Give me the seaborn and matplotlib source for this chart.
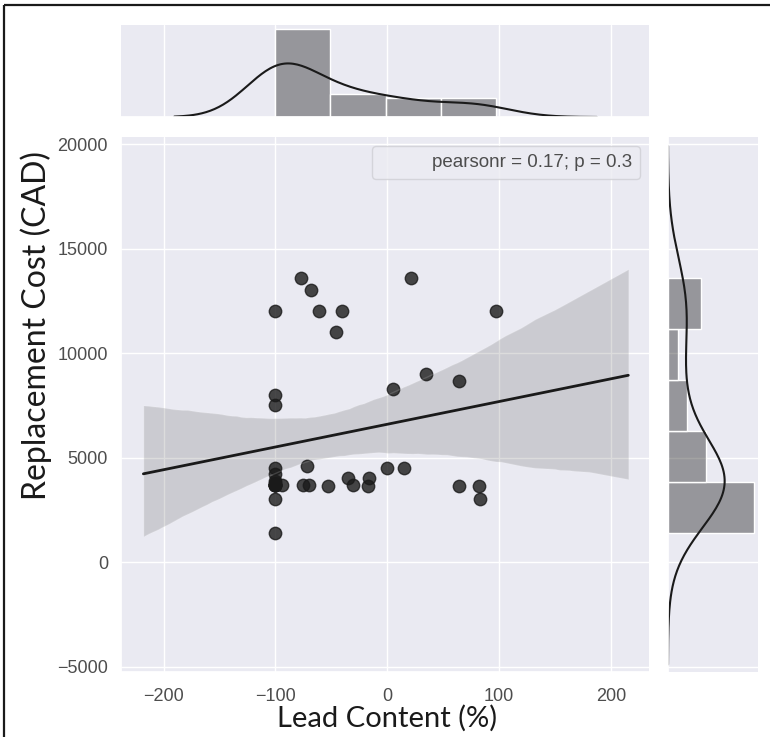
import numpy as np
import pandas as pd
import matplotlib
matplotlib.use("Agg")
import matplotlib.pyplot as plt
import seaborn as sns
from matplotlib.lines import Line2D
from matplotlib.patches import Rectangle

# --- Data ---
# lead content (%) and replacement cost (CAD) per service line
lead_content = [
    -77, -68, -100, -61, -40, -46, 21, 97, 35, 64, 5, -100, -100,
    -100, -72, -35, -16, 0, 15,
    -100, -100,
    -75, -70, -53, -31, -17, 64, 82, 83, -100, -100,
    -100, -100, -100, -100, -100, -100, -100, -94,
]
replacement_cost = [
    13600, 13000, 12000, 12000, 12000, 11000, 13600, 12000, 9000, 8660, 8300, 8000, 7500,
    4500, 4600, 4000, 4000, 4500, 4500,
    4200, 3900,
    3700, 3700, 3650, 3680, 3650, 3650, 3650, 3000, 3000, 1400,
    3800, 3700, 3700, 3700, 3700, 3700, 3700, 3700,
]
stat_label = "pearsonr = 0.17; p = 0.3"
x_ticks = [-200, -100, 0, 100, 200]
y_ticks = [-5000, 0, 5000, 10000, 15000, 20000]

df = pd.DataFrame({"lead": lead_content, "cost": replacement_cost})

# --- Style ---
sns.set_theme(style="darkgrid")
TICK_COLOR = ".3"
LABEL_FONT = ["Lato", "DejaVu Sans"]

g = sns.JointGrid(data=df, x="lead", y="cost", height=7.37)
fig = g.figure
fig.set_size_inches(7.7, 7.37)

# place axes to match the reference layout (pixel based, 770x737)
W, H = 770.0, 737.0
def box(x0, y0, x1, y1):
    return [x0 / W, 1 - y1 / H, (x1 - x0) / W, (y1 - y0) / H]

g.ax_joint.set_position(box(121, 137, 649, 672))
g.ax_marg_x.set_position(box(121, 25, 649, 117))
g.ax_marg_y.set_position(box(668, 137, 758, 672))

# marginal distributions (histogram + kde)
sns.histplot(x=df["lead"], ax=g.ax_marg_x, bins=4, stat="density", kde=True,
             color="k", alpha=0.4, kde_kws=dict(cut=3),
             line_kws=dict(lw=1.5))
sns.histplot(y=df["cost"], ax=g.ax_marg_y, bins=5, stat="density", kde=True,
             color="k", alpha=0.4, kde_kws=dict(cut=3, bw_adjust=1.2),
             line_kws=dict(lw=1.5))

# regression line spans the range the axis had before the fit was drawn
g.ax_joint.set_xlim(-218, 215.5)
sns.regplot(data=df, x="lead", y="cost", ax=g.ax_joint, color="k",
            truncate=False, seed=0,
            scatter_kws=dict(s=80), line_kws=dict(lw=2))

ax = g.ax_joint
ax.set_xlim(-238, 234)
ax.set_ylim(-5263, 20340)
ax.set_xticks(x_ticks)
ax.set_yticks(y_ticks)
ax.tick_params(axis="both", length=0)
ax.tick_params(axis="x", labelsize=13, labelcolor=TICK_COLOR, pad=11.5)
ax.tick_params(axis="y", labelsize=13, labelcolor=TICK_COLOR, pad=9.4)
for lab in ax.get_xticklabels() + ax.get_yticklabels():
    lab.set_family("Liberation Sans")

ax.set_xlabel("Lead Content (%)", fontsize=21, family=LABEL_FONT, color="k")
ax.set_ylabel("Replacement Cost (CAD)", fontsize=23, family=LABEL_FONT, color="k")
ax.xaxis.set_label_coords(0.503, -0.062)
ax.yaxis.set_label_coords(-0.130, 0.647)

g.ax_marg_x.set_xlabel("")
g.ax_marg_x.set_ylabel("")
g.ax_marg_y.set_xlabel("")
g.ax_marg_y.set_ylabel("")

# stats annotation as a legend with an invisible handle
blank = Rectangle((0, 0), 1, 1, fill=False, edgecolor="none", visible=False)
leg = ax.legend([blank], [stat_label], loc="upper right", frameon=True,
                fancybox=True, prop=dict(family="Liberation Sans", size=13.5))
leg.get_frame().set_facecolor("#ECECF2")
leg.get_frame().set_edgecolor("#CFCFD4")
for t in leg.get_texts():
    t.set_color(TICK_COLOR)

# screenshot frame on the left and top edges
fig.add_artist(Line2D([4 / W, 4 / W], [0, 1 - 5 / H], transform=fig.transFigure,
                      color="k", lw=1.6, solid_capstyle="butt"))
fig.add_artist(Line2D([4 / W, 1.02], [1 - 5 / H, 1 - 5 / H], transform=fig.transFigure,
                      color="k", lw=1.6, solid_capstyle="butt"))

fig.savefig("out.png", dpi=100)
